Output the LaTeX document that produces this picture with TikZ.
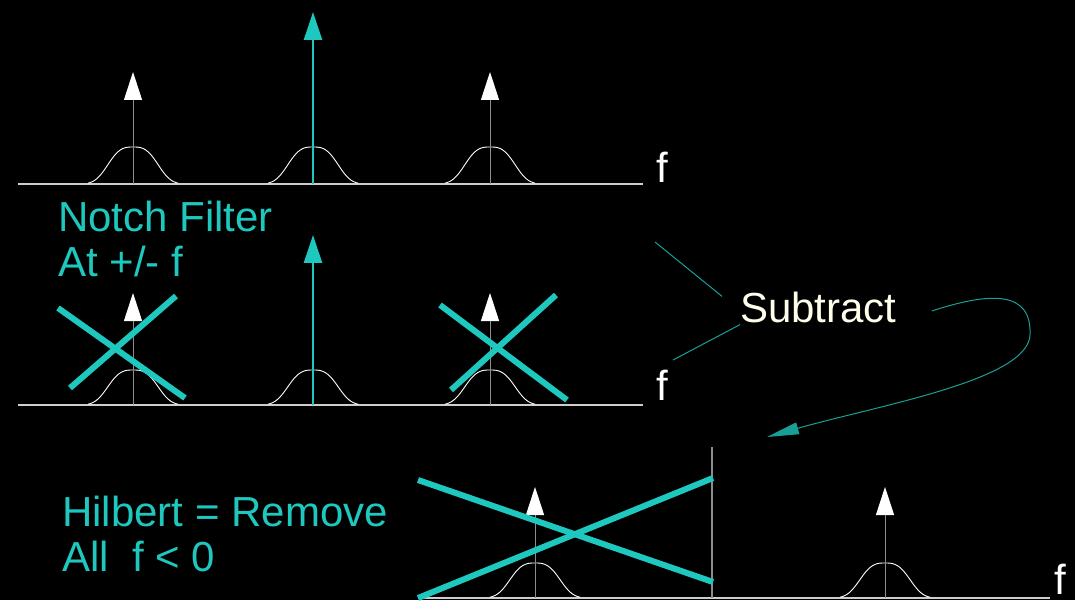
\documentclass[tikz,border=0pt]{standalone}
\usepackage{fontspec}
\setmainfont{Liberation Sans}
\usetikzlibrary{arrows.meta,positioning}
\definecolor{notchcyan}{RGB}{30,200,190}
\definecolor{axisgray}{RGB}{205,205,205}

\begin{document}
\begin{tikzpicture}[x=1pt, y=-1pt,
    axis/.style={draw=axisgray, line width=1.6pt},
    bump/.style={draw=white, line width=0.9pt},
    tone/.style={draw=gray!90, line width=1pt, -{Triangle[length=28pt, width=18pt, color=white]}},
    carrier/.style={draw=notchcyan, line width=2.5pt, -{Triangle[length=28pt, width=18pt]}},
    cross/.style={draw=notchcyan, line width=6pt},
    label/.style={font=\fontsize{42}{45}\selectfont, inner sep=0pt, align=left},
    arrow/.style={draw=notchcyan!80!black, line width=1pt}]

    \fill [black] (0,0) rectangle (1075,600);

    % row 1: spectrum
    \draw [axis] (18,184) -- (643,184);
    \foreach \c in {133,313,490}
        \draw [bump] plot [domain=-45:45, samples=50, smooth] ({\c+\x}, {184-37*exp(-(abs(\x)/29)^3)});
    \draw [tone] (133,184) -- (133,72);
    \draw [tone] (490,184) -- (490,72);
    \draw [carrier] (313,184) -- (313,12);
    \node [label, white, anchor=base west] (f1) at (656,183) {f};

    % row 2: notch filter
    \node [label, notchcyan, anchor=north west] (notch) at (58,201) {Notch Filter\\At +/- f};
    \draw [axis] (18,405) -- (643,405);
    \foreach \c in {133,313,490}
        \draw [bump] plot [domain=-45:45, samples=50, smooth] ({\c+\x}, {405-35*exp(-(abs(\x)/29)^3)});
    \draw [tone] (133,405) -- (133,293);
    \draw [tone] (490,405) -- (490,293);
    \draw [carrier] (313,405) -- (313,235);
    \draw [cross] (58,308) -- (185,398);
    \draw [cross] (176,296) -- (70,388);
    \draw [cross] (440,305) -- (567,400);
    \draw [cross] (556,295) -- (451,390);
    \node [label, white, anchor=base west] (f2) at (656,400) {f};

    % subtract
    \node [label, white!92!yellow, anchor=base west] (subtract) at (740,322) {Subtract};
    \coordinate (top) at (655,242);
    \coordinate (low) at (673,360);
    \coordinate (hilb) at (767,437);
    \draw [arrow] (top) -- ([xshift=-18pt, yshift=-5pt]subtract.north west);
    \draw [arrow] (low) -- ([xshift=0pt, yshift=-2pt]subtract.south west);
    \draw [arrow, -{Triangle[length=32pt, width=12pt]}] ([xshift=35pt, yshift=-4pt]subtract.east)
        .. controls (990,292) and (1032,290) .. (1030,335)
        .. controls (1028,380) and (880,405) .. (hilb);

    % row 3: hilbert
    \node [label, notchcyan, anchor=north west] (hilbert) at (62,496) {Hilbert = Remove\\All\ \ f < 0};
    \draw [axis] (420,598) -- (1050,598);
    \draw [draw=gray!90, line width=1.2pt] (712,447) -- (712,598);
    \foreach \c in {535,885}
        \draw [bump] plot [domain=-45:45, samples=50, smooth] ({\c+\x}, {598-35*exp(-(abs(\x)/29)^3)});
    \draw [tone] (535,598) -- (535,487);
    \draw [tone] (885,598) -- (885,487);
    \draw [cross] (418,480) -- (713,582);
    \draw [cross] (418,598) -- (713,478);
    \node [label, white, anchor=base west] (f3) at (1054,594) {f};
\end{tikzpicture}
\end{document}
